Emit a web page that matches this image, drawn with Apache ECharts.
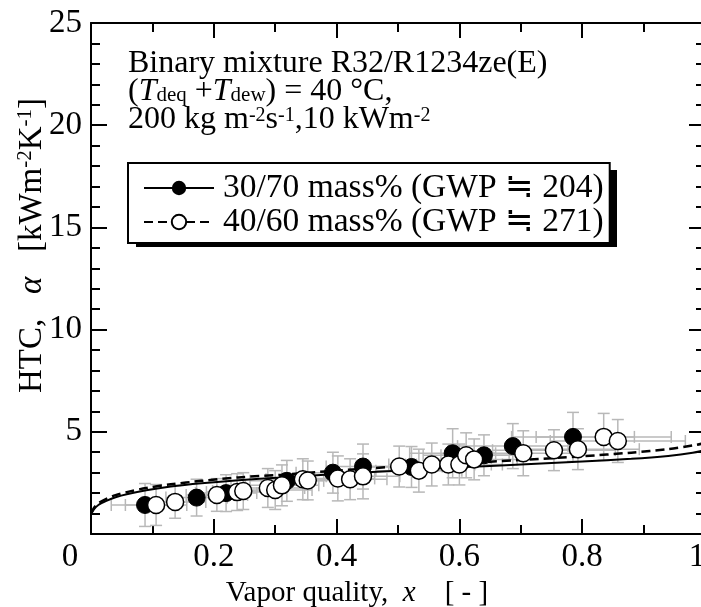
<!DOCTYPE html>
<html><head><meta charset="utf-8">
<script src="https://cdn.jsdelivr.net/npm/echarts@6/dist/echarts.min.js"></script>
<style>html,body{margin:0;padding:0;background:#fff}#c{width:701px;height:607px}</style>
</head><body><div id="c"></div>
<script>
// ---- data ----
const xTickLabels = ['0', '0.2', '0.4', '0.6', '0.8', '1'];
const yTickLabels = ['', '5', '10', '15', '20', '25'];
const seriesNames = ['30/70 mass% (GWP ≒ 204)', '40/60 mass% (GWP ≒ 271)'];

// 30/70 mass% measurements (filled circles)
const filledX = [0.088, 0.172, 0.220, 0.319, 0.394, 0.443, 0.522, 0.589, 0.640, 0.687, 0.785];
const filledY = [1.42, 1.78, 2.00, 2.60, 3.00, 3.30, 3.28, 3.95, 3.85, 4.30, 4.75];
const filledXErr = [0.055, 0.05, 0.05, 0.06, 0.06, 0.06, 0.07, 0.07, 0.07, 0.09, 0.10];
const filledYErr = [1.05, 0.90, 0.90, 1.00, 1.00, 1.10, 1.00, 1.20, 1.00, 1.10, 1.20];

// 40/60 mass% measurements (open circles)
const openX = [0.106, 0.137, 0.205, 0.238, 0.248, 0.288, 0.300, 0.311, 0.345, 0.353, 0.402, 0.422, 0.443, 0.502, 0.534, 0.555, 0.582, 0.600, 0.611, 0.624, 0.704, 0.754, 0.793, 0.835, 0.858];
const openY = [1.42, 1.57, 1.91, 2.05, 2.10, 2.25, 2.15, 2.38, 2.68, 2.62, 2.72, 2.68, 2.82, 3.30, 3.10, 3.40, 3.40, 3.40, 3.85, 3.65, 3.95, 4.10, 4.15, 4.75, 4.55];
const openXErr = [0.05, 0.05, 0.05, 0.05, 0.05, 0.06, 0.06, 0.06, 0.06, 0.06, 0.06, 0.06, 0.06, 0.07, 0.07, 0.07, 0.07, 0.07, 0.07, 0.07, 0.09, 0.10, 0.10, 0.11, 0.11];
const openYErr = [1.00, 0.80, 0.80, 0.90, 0.90, 0.95, 0.95, 1.00, 1.00, 0.95, 1.10, 1.00, 1.10, 1.00, 1.05, 1.05, 1.00, 1.00, 1.10, 1.00, 1.10, 1.00, 1.00, 1.15, 1.05];

// correlation curves
const curveX = [0, 0.005, 0.012, 0.025, 0.04, 0.06, 0.09, 0.13, 0.18, 0.24, 0.31, 0.40, 0.50, 0.60, 0.70, 0.80, 0.88, 0.94, 0.98, 1.00];
const solidY = [0.95, 1.22, 1.42, 1.62, 1.80, 1.96, 2.14, 2.32, 2.48, 2.63, 2.76, 2.93, 3.10, 3.26, 3.40, 3.55, 3.68, 3.82, 3.97, 4.10];
const dashY  = [1.00, 1.28, 1.50, 1.72, 1.90, 2.06, 2.25, 2.43, 2.60, 2.77, 2.90, 3.10, 3.30, 3.46, 3.62, 3.80, 3.98, 4.15, 4.33, 4.45];

// ---- chart ----
const FONT = '"Liberation Serif", "Times New Roman", serif';
const zip = (a, b) => a.map((v, i) => [v, b[i]]);
const zip4 = (a, b, c, d) => a.map((v, i) => [v, b[i], c[i], d[i]]);

function errRender(params, api) {
  const x = api.value(0), y = api.value(1), ex = api.value(2), ey = api.value(3);
  const l = api.coord([x - ex, y]), r = api.coord([x + ex, y]);
  const b = api.coord([x, y - ey]), t = api.coord([x, y + ey]);
  const cap = 6;
  const st = { stroke: '#b8b8b8', lineWidth: 1.5 };
  const mk = (x1, y1, x2, y2) => ({ type: 'line', shape: { x1, y1, x2, y2 }, style: st });
  return { type: 'group', children: [
    mk(l[0], l[1], r[0], r[1]), mk(l[0], l[1] - cap, l[0], l[1] + cap), mk(r[0], r[1] - cap, r[0], r[1] + cap),
    mk(b[0], b[1], t[0], t[1]), mk(b[0] - cap, b[1], b[0] + cap, b[1]), mk(t[0] - cap, t[1], t[0] + cap, t[1])
  ]};
}

const axisLine = { show: true, onZero: false, lineStyle: { color: '#000', width: 2 } };
const chart = echarts.init(document.getElementById('c'), null, { renderer: 'canvas' });
chart.setOption({
  animation: false,
  backgroundColor: '#fff',
  grid: { left: 91, right: -4, top: 23, bottom: 73, containLabel: false, outerBoundsMode: 'none' },
  xAxis: [{
    type: 'value', min: 0, max: 1, interval: 0.2, position: 'bottom',
    axisLine, splitLine: { show: false },
    axisTick: { inside: true, length: 15, lineStyle: { color: '#000', width: 2 } },
    minorTick: { show: true, splitNumber: 2, length: 9, lineStyle: { color: '#000', width: 2 } },
    axisLabel: {
      margin: 7, color: '#000', fontSize: 33, fontFamily: FONT, showMinLabel: true, showMaxLabel: true,
      formatter: v => {
        const i = Math.round(v / 0.2);
        if (i === 0) return '{z|' + xTickLabels[0] + '}';
        if (i === 5) return '{o|' + xTickLabels[5] + '}';
        return xTickLabels[i];
      },
      rich: {
        z: { fontSize: 33, fontFamily: FONT, color: '#000', padding: [0, 42, 0, 0] },
        o: { fontSize: 33, fontFamily: FONT, color: '#000', padding: [0, 16, 0, 0] }
      }
    },
    name: 'Vapor quality,  {i|x}    [ - ]', nameLocation: 'middle', nameGap: 38,
    nameTextStyle: {
      color: '#000', fontSize: 29, fontFamily: FONT, padding: [0, 82, 0, 0],
      rich: { i: { fontSize: 29, fontFamily: FONT, fontStyle: 'italic', color: '#000' } }
    }
  }, {
    type: 'value', min: 0, max: 1, interval: 0.2, position: 'top',
    axisLine, splitLine: { show: false }, axisLabel: { show: false },
    axisTick: { inside: true, length: 15, lineStyle: { color: '#000', width: 2 } },
    minorTick: { show: true, splitNumber: 2, length: 9, lineStyle: { color: '#000', width: 2 } }
  }],
  yAxis: [{
    type: 'value', min: 0, max: 25, interval: 5, position: 'left',
    axisLine, splitLine: { show: false },
    axisTick: { inside: true, length: 16, lineStyle: { color: '#000', width: 2 } },
    minorTick: { show: true, splitNumber: 5, length: 9, lineStyle: { color: '#000', width: 2 } },
    axisLabel: {
      margin: 9, color: '#000', fontSize: 33, fontFamily: FONT,
      formatter: v => yTickLabels[Math.round(v / 5)]
    },
    name: 'HTC,   {i|α}   [kWm{p|-2}K{p|-1}]', nameLocation: 'middle', nameGap: 42, nameRotate: 90,
    nameMoveOverlap: false,
    nameTextStyle: {
      color: '#000', fontSize: 33, fontFamily: FONT, lineHeight: 34, padding: [0, 0, 0, 66],
      rich: {
        i: { fontSize: 33, fontFamily: FONT, fontStyle: 'italic', color: '#000', lineHeight: 34 },
        p: { fontSize: 21, fontFamily: FONT, color: '#000', verticalAlign: 'top', lineHeight: 20 }
      }
    }
  }, {
    type: 'value', min: 0, max: 25, interval: 5, position: 'right',
    axisLine, splitLine: { show: false }, axisLabel: { show: false },
    axisTick: { inside: true, length: 16, lineStyle: { color: '#000', width: 2 } },
    minorTick: { show: true, splitNumber: 5, length: 9, lineStyle: { color: '#000', width: 2 } }
  }],
  legend: {
    data: seriesNames, orient: 'vertical', left: 128, top: 163, z: 6,
    padding: [8, 6, 4, 15], itemGap: 0, itemWidth: 70, itemHeight: 18,
    backgroundColor: '#fff', borderColor: '#000', borderWidth: 2, borderRadius: 0,
    selectedMode: false,
    textStyle: { color: '#000', fontSize: 33.5, fontFamily: FONT, lineHeight: 32, padding: [0, 0, 0, 4] }
  },
  graphic: [{
    type: 'rect', left: 136, top: 170, z: 5,
    shape: { width: 481, height: 77 },
    style: { fill: '#000' }
  }, {
    type: 'text', left: 128, top: 48, z: 10,
    style: {
      text: 'Binary mixture R32/R1234ze(E)\n({i|T}{s|deq} +{i|T}{s|dew}) = 40 °C,\n200 kg m{p|-2}s{p|-1},10 kWm{p|-2}',
      fill: '#000', fontSize: 32, fontFamily: FONT, lineHeight: 28,
      rich: {
        i: { fontSize: 32, fontFamily: FONT, fontStyle: 'italic', fill: '#000', lineHeight: 28 },
        s: { fontSize: 21, fontFamily: FONT, fill: '#000', verticalAlign: 'bottom', lineHeight: 14 },
        p: { fontSize: 20, fontFamily: FONT, fill: '#000', verticalAlign: 'top', lineHeight: 16 }
      }
    }
  }],
  series: [
    { type: 'custom', name: 'err1', renderItem: errRender, data: zip4(filledX, filledY, filledXErr, filledYErr), z: 1, silent: true },
    { type: 'custom', name: 'err2', renderItem: errRender, data: zip4(openX, openY, openXErr, openYErr), z: 1, silent: true },
    { type: 'line', name: seriesNames[0], data: zip(curveX, solidY), smooth: 0.3, showSymbol: false, symbol: 'circle', z: 3,
      lineStyle: { color: '#000', width: 2, type: 'solid' }, itemStyle: { color: '#000' } },
    { type: 'line', name: seriesNames[1], data: zip(curveX, dashY), smooth: 0.3, showSymbol: false, symbol: 'circle', z: 3,
      lineStyle: { color: '#000', width: 2.5, type: [9, 5] }, itemStyle: { color: '#fff', borderColor: '#000', borderWidth: 1.5 } },
    { type: 'scatter', name: 'pts1', data: zip(filledX, filledY), symbol: 'circle', symbolSize: 17, z: 4,
      itemStyle: { color: '#000', borderColor: '#000', borderWidth: 1, opacity: 1 } },
    { type: 'scatter', name: 'pts2', data: zip(openX, openY), symbol: 'circle', symbolSize: 17, z: 4,
      itemStyle: { color: '#fff', borderColor: '#000', borderWidth: 1.5, opacity: 1 } }
  ]
});
</script>
</body></html>
